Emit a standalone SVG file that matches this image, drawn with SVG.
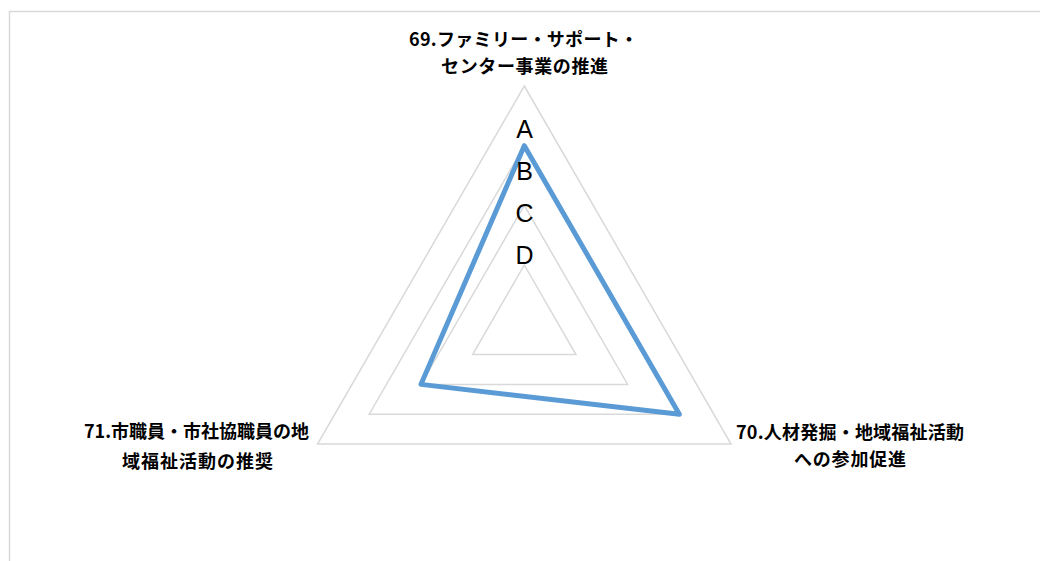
<svg xmlns="http://www.w3.org/2000/svg" width="1040" height="561" viewBox="0 0 1040 561">
  <style>
    .frame { fill: none; stroke: #D9D9D9; stroke-width: 1.5; }
    .grid { fill: none; stroke: #D9D9D9; stroke-width: 1.5; }
    .series { fill: none; stroke: #5B9BD5; stroke-width: 5; stroke-linejoin: round; stroke-linecap: round; }
    .tick { font-family: "Liberation Sans", Arial, sans-serif; font-size: 25px; fill: #000000; text-anchor: middle; }
    .cat { font-family: "Noto Sans CJK JP", "Noto Sans", sans-serif; font-size: 18px; font-weight: bold; fill: #000000; text-anchor: middle; }
  </style>
  <rect x="0" y="0" width="1040" height="561" fill="#FFFFFF"/>
  <path class="frame" d="M 9.5 561 V 11.5 H 1040"/>

  <g id="grid">
    <polygon class="grid" points="524.3,265.0 575.98,354.54 472.62,354.54"/>
    <polygon class="grid" points="524.3,205.35 627.66,384.38 420.94,384.38"/>
    <polygon class="grid" points="524.3,145.67 679.35,414.22 369.25,414.22"/>
    <polygon class="grid" points="524.3,86.0 731.03,444.05 317.57,444.05"/>
  </g>

  <g id="connectors">
    <polygon id="series" class="series" points="524.3,145.67 679.35,414.22 420.94,384.38"/>
  </g>

  <g id="axis-labels">
    <text class="tick" x="524.5" y="138">A</text>
    <text class="tick" x="524.5" y="180">B</text>
    <text class="tick" x="524.5" y="222">C</text>
    <text class="tick" x="524.5" y="263.5">D</text>
  </g>

  <g id="node-69">
    <text class="cat" x="523.5" y="45.5" textLength="229">69.ファミリー・サポート・</text>
    <text class="cat" x="524.5" y="73" textLength="167">センター事業の推進</text>
  </g>
  <g id="node-70">
    <text class="cat" x="850" y="439" textLength="228">70.人材発掘・地域福祉活動</text>
    <text class="cat" x="850" y="466" textLength="112">への参加促進</text>
  </g>
  <g id="node-71">
    <text class="cat" x="196.5" y="438" textLength="225">71.市職員・市社協職員の地</text>
    <text class="cat" x="197.5" y="468" textLength="151">域福祉活動の推奨</text>
  </g>
</svg>
